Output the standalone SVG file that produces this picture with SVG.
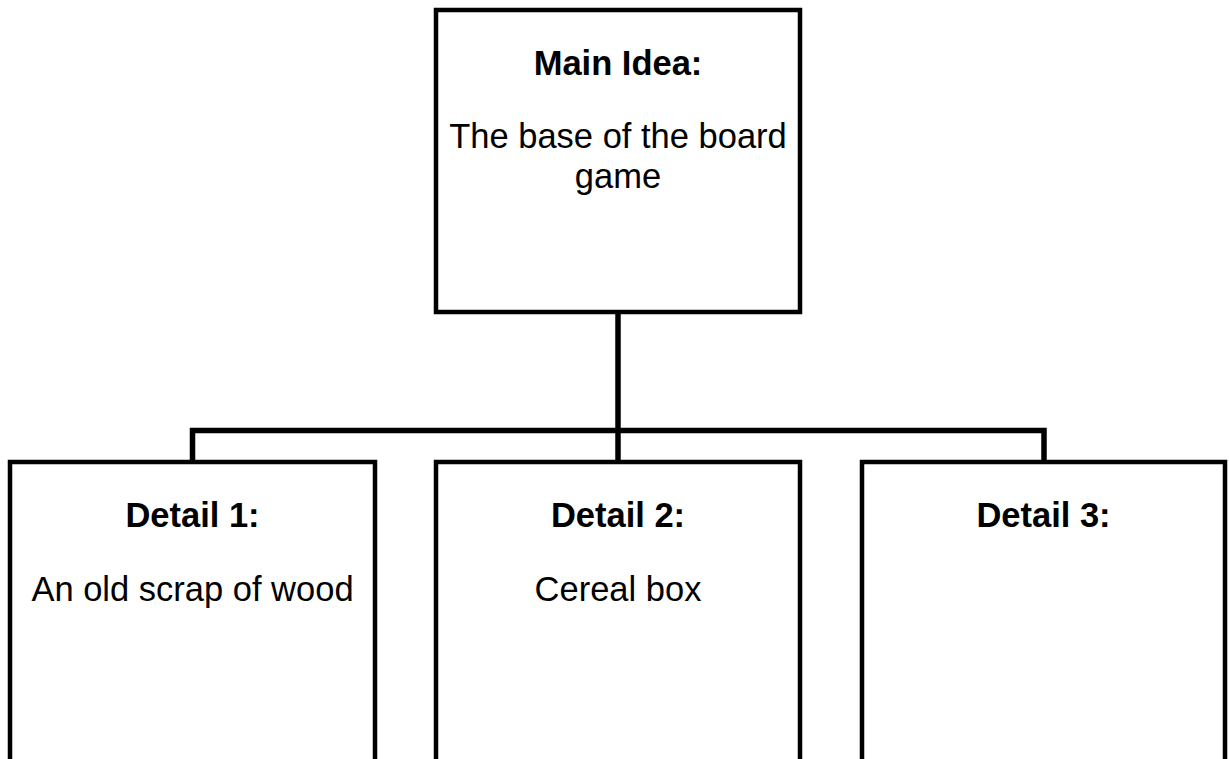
<svg xmlns="http://www.w3.org/2000/svg" width="1229" height="759" viewBox="0 0 1229 759">
<style>
.box{fill:#fff;stroke:#000;stroke-width:4.5}
.conn{fill:none;stroke:#000;stroke-width:5.5;stroke-linejoin:miter;stroke-linecap:butt}
.h{font-family:"Liberation Sans",Arial,sans-serif;font-weight:bold;font-size:34.5px;text-anchor:middle;fill:#000}
.t{font-family:"Liberation Sans",Arial,sans-serif;font-size:34.5px;text-anchor:middle;fill:#000}
</style>
<rect x="0" y="0" width="1229" height="759" fill="#fff"/>
<g id="connectors">
<line class="conn" x1="618" y1="312" x2="618" y2="431"/>
<polyline class="conn" points="192.5,462 192.5,430.5 1044,430.5 1044,462"/>
<line class="conn" x1="618" y1="430" x2="618" y2="462"/>
</g>
<g id="main">
<rect class="box" x="436" y="10" width="364" height="302"/>
<text class="h" x="618" y="75">Main Idea:</text>
<text class="t" x="618" y="148">The base of the board</text>
<text class="t" x="618" y="188">game</text>
</g>
<g id="detail1">
<rect class="box" x="10" y="462" width="365" height="330"/>
<text class="h" x="192.5" y="527">Detail 1:</text>
<text class="t" x="192.5" y="601">An old scrap of wood</text>
</g>
<g id="detail2">
<rect class="box" x="436" y="462" width="364" height="330"/>
<text class="h" x="618" y="527">Detail 2:</text>
<text class="t" x="618" y="601">Cereal box</text>
</g>
<g id="detail3">
<rect class="box" x="862" y="462" width="363" height="330"/>
<text class="h" x="1043.5" y="527">Detail 3:</text>
</g>
</svg>
